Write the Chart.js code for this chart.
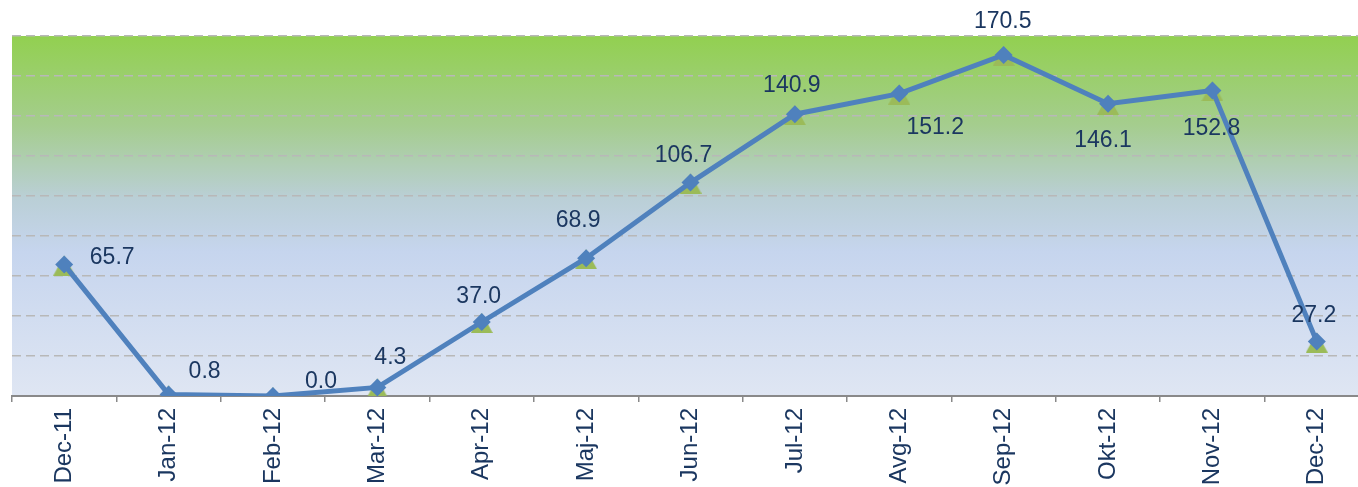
<!DOCTYPE html>
<html><head><meta charset="utf-8">
<script src="https://cdn.jsdelivr.net/npm/chart.js@4.4.0/dist/chart.umd.min.js"></script>
<style>
html,body{margin:0;padding:0;background:#fff;overflow:hidden;width:1358px;height:487px}
#wrap{width:1381px;height:487px}
</style></head><body>
<div id="wrap"><canvas id="c" width="1381" height="487"></canvas></div>
<script>
// ---- data ----
const categories = ['Dec-11','Jan-12','Feb-12','Mar-12','Apr-12','Maj-12','Jun-12','Jul-12','Avg-12','Sep-12','Okt-12','Nov-12','Dec-12'];
const lineValues = [65.7, 0.8, 0.0, 4.3, 37.0, 68.9, 106.7, 140.9, 151.2, 170.5, 146.1, 152.8, 27.2];
const triangleValues = [65.7, 0.8, 0.0, 4.3, 37.0, 68.9, 106.7, 140.9, 151.2, 170.5, 146.1, 152.8, 27.2];
const valueLabels = ['65.7','0.8','0.0','4.3','37.0','68.9','106.7','140.9','151.2','170.5','146.1','152.8','27.2'];
const yMin = 0, yMax = 180, yStep = 20;

// ---- styles ----
const labelOffsets = [[48,-7],[36,-23],[48,-14],[13,-30],[-3,-25],[-8,-38],[-7,-27],[-3,-29],[36,34],[-1,-33],[-5,37],[-1,38],[-3,-26]];
const textColor = '#1B3760';
const fontFamily = '"Liberation Sans", Arial, sans-serif';

const tri = document.createElement('canvas');
tri.width = 22; tri.height = 22;
(function(){const t=tri.getContext('2d');t.fillStyle='#9BBB59';t.beginPath();t.moveTo(11,2);t.lineTo(22,22);t.lineTo(0,22);t.closePath();t.fill();})();

const bgPlugin = {
  id:'bg',
  beforeDraw(chart){
    const {ctx, chartArea:a} = chart;
    const g = ctx.createLinearGradient(0,a.top,0,a.bottom);
    g.addColorStop(0,'#92D050');
    g.addColorStop(0.25,'#A5CD8F');
    g.addColorStop(0.45,'#BACFD6');
    g.addColorStop(0.6,'#C6D5EE');
    g.addColorStop(1,'#DFE6F3');
    ctx.save(); ctx.fillStyle=g; ctx.fillRect(a.left,a.top,a.right-a.left,a.bottom-a.top); ctx.restore();
  }
};
const labelPlugin = {
  id:'vlabels',
  afterDatasetsDraw(chart){
    const meta = chart.getDatasetMeta(1);
    const ctx = chart.ctx;
    ctx.save();
    ctx.font = '23px ' + fontFamily;
    ctx.fillStyle = textColor;
    ctx.textAlign='center'; ctx.textBaseline='middle';
    meta.data.forEach((p,i)=>{
      ctx.fillText(valueLabels[i], p.x+labelOffsets[i][0], p.y+labelOffsets[i][1]);
    });
    ctx.restore();
  }
};

new Chart(document.getElementById('c'), {
  type:'line',
  data:{
    labels:categories,
    datasets:[
      {data:triangleValues, showLine:false, pointStyle:tri, pointRadius:11, order:2, borderColor:'#9BBB59', backgroundColor:'#9BBB59'},
      {data:lineValues, borderColor:'#4F81BD', borderWidth:5, pointStyle:'rectRot', pointRadius:9, pointBorderWidth:0,
       pointBackgroundColor:'#4F81BD', pointBorderColor:'#4F81BD', order:1, tension:0}
    ]
  },
  options:{
    responsive:false, animation:false, devicePixelRatio:1,
    layout:{padding:{top:36,left:10,right:0,bottom:0}},
    plugins:{legend:{display:false}, tooltip:{enabled:false}},
    scales:{
      x:{
        offset:true,
        grid:{offset:true, drawOnChartArea:false, drawTicks:true, tickLength:6, color:'#898989', lineWidth:1.5},
        border:{display:true, color:'#898989', width:2},
        ticks:{autoSkip:false, minRotation:90, maxRotation:90, padding:6, color:textColor, font:{size:24, family:fontFamily}},
        afterFit(s){ s.height = 91; }
      },
      y:{
        min:yMin, max:yMax,
        ticks:{display:false, stepSize:yStep},
        grid:{drawTicks:false, color:'#B8B8B8', lineWidth:1.5},
        border:{display:false, dash:[9,5]},
        afterFit(s){ s.width = 0; }
      }
    }
  },
  plugins:[bgPlugin, labelPlugin]
});
</script>
</body></html>
